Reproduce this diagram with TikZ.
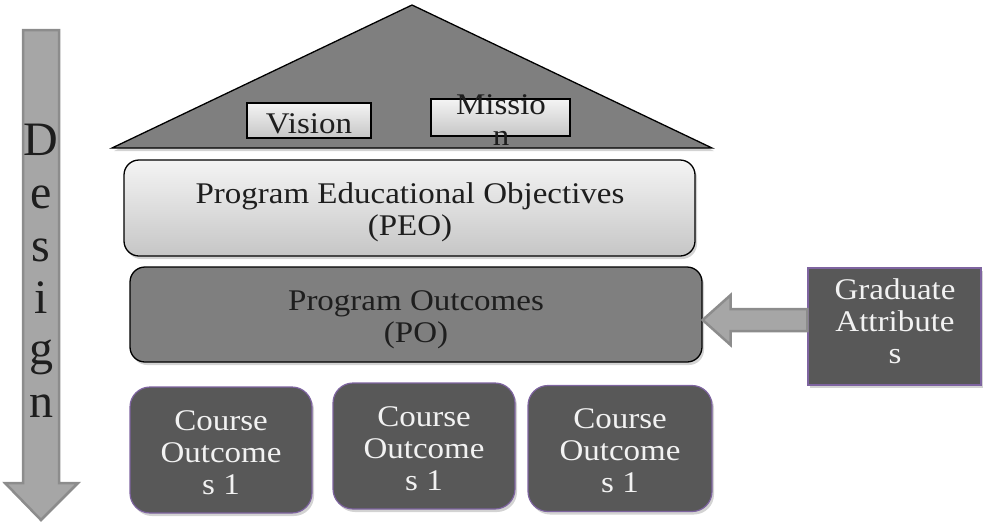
\documentclass[tikz,border=0pt]{standalone}
\usepackage{fontspec}
\setmainfont{Liberation Serif}
\newfontfamily\boxfont{Liberation Serif}[FakeStretch=1.1]
\usetikzlibrary{shadows,calc}
\definecolor{roofgray}{HTML}{7F7F7F}
\definecolor{pogray}{HTML}{7F7F7F}
\definecolor{darkbox}{HTML}{585858}
\definecolor{purpleline}{HTML}{7E64A0}
\definecolor{arrowfill}{HTML}{A6A6A6}
\definecolor{arrowline}{HTML}{8C8C8C}
\definecolor{lighttop}{HTML}{F4F4F4}
\definecolor{lightbot}{HTML}{C6C6C6}
\definecolor{whitetext}{HTML}{F2F2F2}
\definecolor{darktext}{HTML}{1E1E1E}
\tikzset{
  boxtext/.style={font=\boxfont\fontsize{30}{32}\selectfont, align=center, text=darktext},
  softshadow/.style={drop shadow={opacity=0.35, shadow xshift=2pt, shadow yshift=-3pt}},
  lightbox/.style={draw=black, line width=1.3pt, top color=lighttop, bottom color=lightbot,
    softshadow, inner sep=0pt},
  tierbox/.style={lightbox, rounded corners=15pt},
  pobox/.style={draw=black, line width=1.3pt, fill=pogray, rounded corners=15pt,
    softshadow, inner sep=0pt},
  darkbox/.style={draw=purpleline, line width=1.2pt, fill=darkbox, softshadow,
    inner sep=0pt},
  coursebox/.style={darkbox, rounded corners=20pt},
  roof/.style={draw=black, line width=1.3pt, fill=roofgray, line join=miter},
  blockarrow/.style={draw=arrowline, line width=2.5pt, fill=arrowfill, line join=miter},
  designletter/.style={font=\fontsize{48}{48}\selectfont, anchor=base, inner sep=0pt, text=darktext}
}
\begin{document}
\begin{tikzpicture}[x=1pt,y=-1pt]
\useasboundingbox (0,0) rectangle (984,523);

% Design arrow
\coordinate (dtop) at (41,30);
\coordinate (dtip) at (41,520);
\draw[blockarrow] ($(dtop)+(-18,0)$) -- ($(dtop)+(18,0)$) -- ($(dtip)+(18,-37)$)
  -- ($(dtip)+(37,-37)$) -- (dtip) -- ($(dtip)+(-36,-37)$) -- ($(dtip)+(-18,-37)$) -- cycle;
\foreach \l/\y [count=\i] in {D/155,e/208,s/261,i/313,g/364,n/417}
  \node[designletter] (d\i) at (41,\y) {\l};

% Roof
\coordinate (roofL) at (112,148);
\coordinate (roofR) at (712,148);
\coordinate (roofT) at (412,5);
\draw[roof, softshadow] (roofL) -- (roofT) -- (roofR) -- cycle;

\node[lightbox, minimum width=124pt, minimum height=35pt] (vision) at (309,120.5) {};
\node[boxtext, inner sep=0pt, anchor=base] (visiontext) at (309,133) {Vision};
\node[lightbox, minimum width=139pt, minimum height=37pt] (mission) at (500.5,117.5) {};
\node[boxtext, inner sep=0pt, anchor=base] (missiontext1) at (501,114) {Missio};
\node[boxtext, inner sep=0pt, anchor=base] (missiontext2) at (501,145) {n};

% Tiers
\node[tierbox, minimum width=571pt, minimum height=96pt] (peo) at (409.5,208) {};
\node[boxtext, anchor=base] (peotext1) at (410,203) {Program Educational Objectives};
\node[boxtext, anchor=base] (peotext2) at (410,235) {(PEO)};

\node[pobox, minimum width=572pt, minimum height=95pt] (po) at (416,314.5) {};
\node[boxtext, anchor=base] (potext1) at (416,310) {Program Outcomes};
\node[boxtext, anchor=base] (potext2) at (416,342) {(PO)};

% Graduate attributes
\node[darkbox, minimum width=173pt, minimum height=117pt] (ga) at (894.5,326.5) {};
\node[boxtext, text=whitetext, anchor=base] (gat1) at (895,299) {Graduate};
\node[boxtext, text=whitetext, anchor=base] (gat2) at (895,331) {Attribute};
\node[boxtext, text=whitetext, anchor=base] (gat3) at (895,363) {s};

% Block arrow from GA to PO
\coordinate (gatail) at ($(ga.west)+(0,-6.5)$);
\coordinate (potip) at ($(po.east)+(0,5.5)$);
\draw[blockarrow] (potip) -- ++(28,-25) -- ++(0,14) -- ($(gatail)+(0,-11)$)
  -- ($(gatail)+(0,11)$) -- ($(potip)+(28,11)$) -- ++(0,14) -- cycle;

% Course outcomes
\node[coursebox, minimum width=182pt, minimum height=126pt] (co1) at (221,450) {};
\node[coursebox, minimum width=182pt, minimum height=126pt] (co2) at (424,446) {};
\node[coursebox, minimum width=184pt, minimum height=126pt] (co3) at (620,448.5) {};
\foreach \c/\x/\y in {co1/221/430, co2/424/426, co3/620/428}{
  \node[boxtext, text=whitetext, anchor=base] (\c a) at (\x,\y) {Course};
  \node[boxtext, text=whitetext, anchor=base] (\c b) at (\x,\y+32) {Outcome};
  \node[boxtext, text=whitetext, anchor=base] (\c c) at (\x,\y+64) {s 1};
}
\end{tikzpicture}
\end{document}
